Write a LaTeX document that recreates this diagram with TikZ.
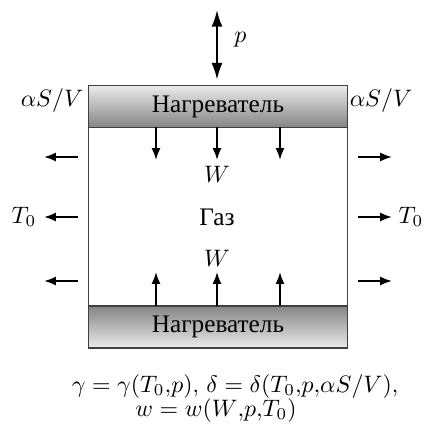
\documentclass[tikz,border=0pt]{standalone}
\usepackage{fontspec}
\newfontfamily\cyrfont[Scale=1.06]{Liberation Serif}
\usetikzlibrary{positioning, arrows.meta}

\begin{document}
\begin{tikzpicture}[x=0.42pt, y=-0.42pt,
    heater/.style={draw=black!75, semithick, minimum width=109pt, minimum height=17.6pt,
      inner sep=0pt, outer sep=0pt, font=\cyrfont},
    arr/.style={-{Latex[length=5pt, width=3.8pt]}, thick},
    parr/.style={{Latex[length=7pt, width=4.6pt]}-{Latex[length=7pt, width=4.6pt]}, thick},
    rel/.style={font=\fontsize{9.6}{11}\selectfont, inner sep=0pt, anchor=base}]
  \useasboundingbox (0,0) rectangle (426,425);
  % heaters
  \node[heater, top color=black!8, bottom color=black!48] (top) at (218,106.5) {Нагреватель};
  \node[heater, top color=black!48, bottom color=black!8] (bot) at (218,327) {Нагреватель};
  \draw[black!75, semithick] (top.south west) -- (bot.north west);
  \draw[black!75, semithick] (top.south east) -- (bot.north east);
  % pressure
  \coordinate (ptop) at (217,10);
  \draw[parr] (ptop) -- ([yshift=2.5pt]top.north -| ptop);
  \node[anchor=west] (p) at (226,40) {$p$};
  % gas
  \node[font=\cyrfont] (gas) at (217,217) {Газ};
  \node (wtop) at (217,174) {$W$};
  \node (wbot) at (217,258) {$W$};
  \foreach \x [count=\i] in {156,217,280} {
    \coordinate (d\i) at (\x,160);
    \coordinate (u\i) at (\x,272);
    \draw[arr] (top.south -| d\i) -- (d\i);
    \draw[arr] (bot.north -| u\i) -- (u\i);
  }
  % losses
  \node (asl) at (52,101) {$\alpha S/V$};
  \node (asr) at (381,101) {$\alpha S/V$};
  \node (tl) at (24,217) {$T_0$};
  \node (tr) at (411,217) {$T_0$};
  \foreach \y [count=\i] in {157,217,281} {
    \coordinate (l\i) at (78,\y);
    \coordinate (r\i) at (358,\y);
    \draw[arr] (l\i) -- ++(-34,0);
    \draw[arr] (r\i) -- ++(34,0);
  }
  % relations
  \node[rel] (rel1) at (235,392) {$\gamma=\gamma(T_0{,}p)$, $\delta=\delta(T_0{,}p{,}\alpha S/V)$,};
  \node[rel] (rel2) at (216,416) {$w=w(W{,}p{,}T_0)$};
\end{tikzpicture}
\end{document}
